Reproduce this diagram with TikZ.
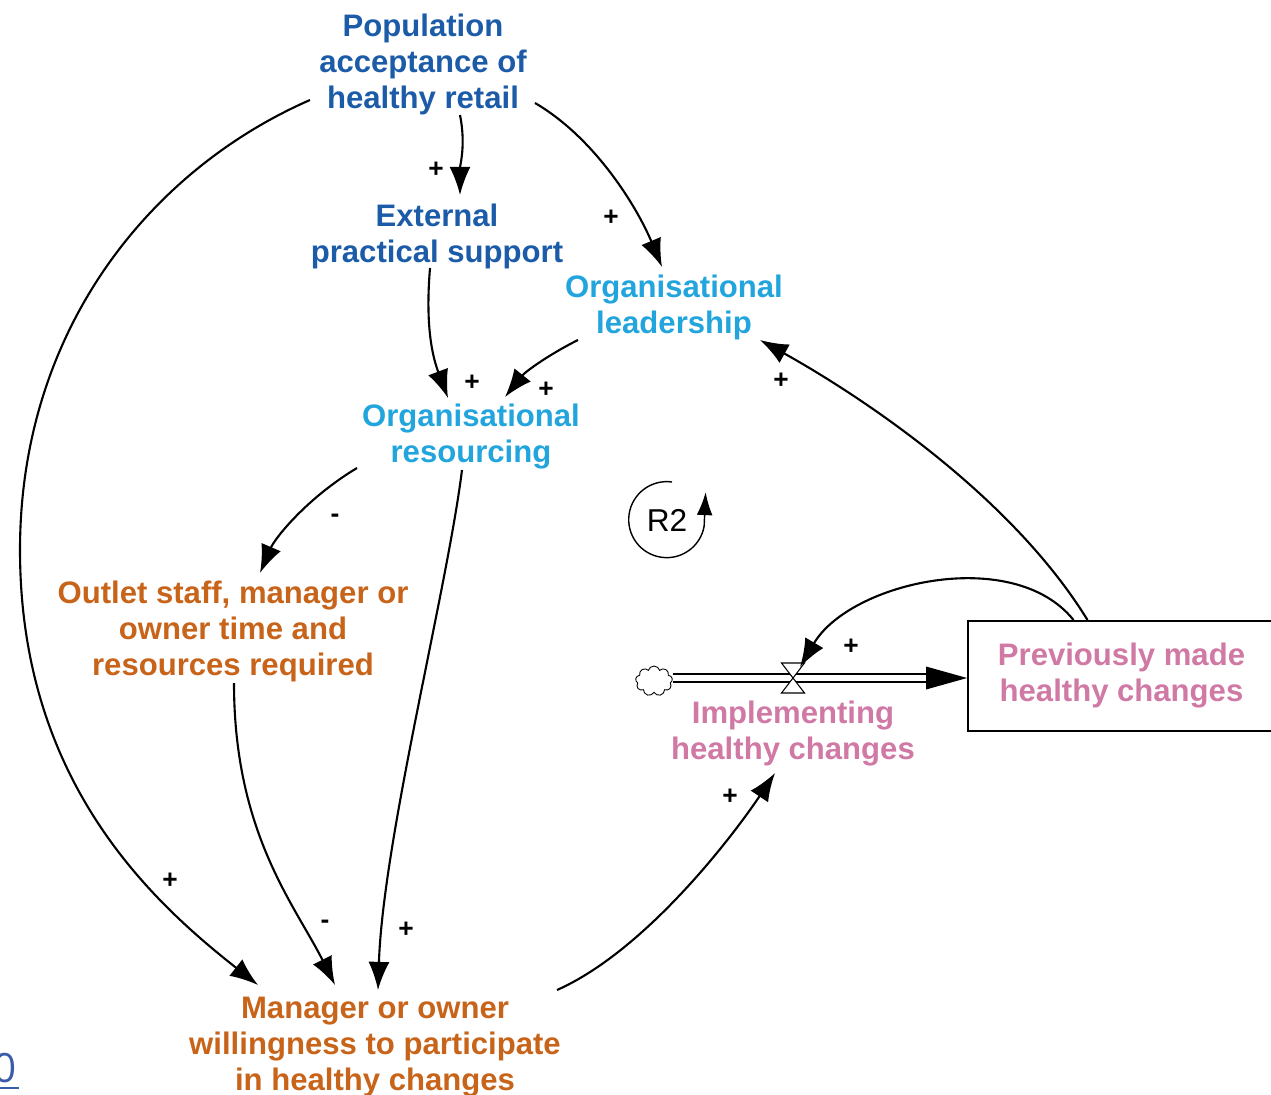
\documentclass[tikz,border=0pt]{standalone}
\usepackage{fontspec}
\setmainfont{Liberation Sans}
\newfontfamily\linkfont{Open Sans}
\usetikzlibrary{arrows.meta,shapes.symbols}
\definecolor{popblue}{HTML}{1B5BA7}
\definecolor{orgcyan}{HTML}{22A5DD}
\definecolor{outorange}{HTML}{C8641A}
\definecolor{chpink}{HTML}{CF79A4}
\definecolor{linkblue}{HTML}{3A5BA9}
\tikzset{
  var/.style={font=\fontsize{17.7}{20.5}\selectfont\bfseries, align=center, inner sep=0pt},
  lnk/.style={-{Latex[length=16pt,width=12pt]}, line width=1.2pt},
  sgn/.style={font=\fontsize{15}{17}\selectfont\bfseries, inner sep=0pt},
}
\newcommand{\sg}[4]{\node[sgn] (#1) at (#2,#3) {#4};}
\newcommand{\at}[3]{([shift={(#2,#3)}]#1.center)}

\begin{document}
\begin{tikzpicture}[x=0.02cm,y=-0.02cm]
  \useasboundingbox (0,0) rectangle (1271,1095);
  % variables
  \node[var,popblue]   (pop)   at (423,64)   {Population\\acceptance of\\healthy retail};
  \node[var,popblue]   (ext)   at (437,236)  {External\\practical support};
  \node[var,orgcyan]   (lead)  at (674,307)  {Organisational\\leadership};
  \node[var,orgcyan]   (res)   at (471,437)  {Organisational\\resourcing};
  \node[var,outorange] (staff) at (233,631)  {Outlet staff, manager or\\owner time and\\resources required};
  \node[var,outorange] (mgr)   at (375,1047) {Manager or owner\\willingness to participate\\in healthy changes};
  \node[var,chpink]    (impl)  at (793,734)  {Implementing\\healthy changes};
  \node[var,chpink,draw=black,line width=1.1pt,minimum width=6.14cm,minimum height=2.2cm]
                       (prev)  at (1121.5,676) {Previously made\\healthy changes};
  % stock and flow
  \coordinate (valve) at (793,678);
  \coordinate (sink) at (valve -| prev.west);
  \node[cloud,draw,cloud puffs=9,line width=0.5pt,minimum width=0.74cm,minimum height=0.6cm,inner sep=0pt] (src) at (654,681) {};
  \draw[line width=1.4pt,double,double distance=3.4pt] (src.east |- valve) -- ([shift={(-38,0)}]sink);
  \fill ([shift={(-41,-11.5)}]sink) -- (sink) -- ([shift={(-41,11.5)}]sink) -- cycle;
  \draw[line width=0.6pt,fill=white] (valve) -- ++(-11.5,-15) -- ++(23,0) -- cycle;
  \draw[line width=0.6pt,fill=white] (valve) -- ++(-11.5,15) -- ++(23,0) -- cycle;
  % links
  \draw[lnk] \at{pop}{37}{51} .. controls +(6,30) and +(0,-30) .. \at{ext}{23}{-41};
  \draw[lnk] \at{pop}{112}{39} .. controls +(60,35) and +(-25,-60) .. \at{lead}{-12}{-40};
  \draw[lnk] \at{pop}{-113}{36} .. controls (150,170) and (20,330) .. (20,550)
                                .. controls (20,780) and (150,900) .. \at{mgr}{-117}{-62};
  \draw[lnk] \at{ext}{-7}{32} .. controls +(-5,60) and +(-15,-40) .. \at{res}{-23}{-39};
  \draw[lnk] \at{lead}{-96}{33} .. controls +(-30,15) and +(20,-25) .. \at{res}{34}{-40};
  \draw[lnk] \at{res}{-114}{31} .. controls +(-50,30) and +(15,-35) .. \at{staff}{27}{-58};
  \draw[lnk] \at{res}{-9}{33} .. controls +(-15,120) and +(5,-150) .. \at{mgr}{3}{-57};
  \draw[lnk] \at{staff}{1}{52} .. controls +(0,150) and +(-40,-80) .. \at{mgr}{-40}{-62};
  \draw[lnk] \at{mgr}{182}{-57} .. controls +(90,-40) and +(-40,60) .. \at{impl}{-18}{39};
  \draw[lnk] \at{prev}{-34}{-56} .. controls +(-80,-130) and +(90,50) .. \at{lead}{86}{33};
  \draw[lnk] \at{prev}{-48}{-56} .. controls +(-60,-75) and +(50,-85) .. ([shift={(7,-11)}]valve);
  % polarities
  \sg{s1}{436}{170}{+} \sg{s2}{611}{218}{+} \sg{s3}{170}{881}{+} \sg{s4}{472}{383}{+}
  \sg{s5}{546}{390}{+} \sg{s6}{335}{518}{-} \sg{s7}{406}{930}{+} \sg{s8}{325}{924}{-}
  \sg{s9}{730}{797}{+} \sg{s10}{781}{381}{+} \sg{s11}{851}{647}{+}
  % loop
  \node[font=\fontsize{18}{20}\selectfont,inner sep=0pt] (rtwo) at (667,520) {R2};
  \draw[line width=0.8pt,-{Latex[length=13pt,width=9pt]}] \at{rtwo}{5}{-38}
    arc[start angle=-82,end angle=-350,radius=38] -- ++(1.5,-34);
  % link fragment
  \node[font=\linkfont\fontsize{23}{26}\selectfont,text=linkblue,anchor=east,inner sep=0pt] (zero) at (17,1068) {0};
  \draw[linkblue,line width=1.4pt] (-5,1088) -- (19,1088);
\end{tikzpicture}
\end{document}
